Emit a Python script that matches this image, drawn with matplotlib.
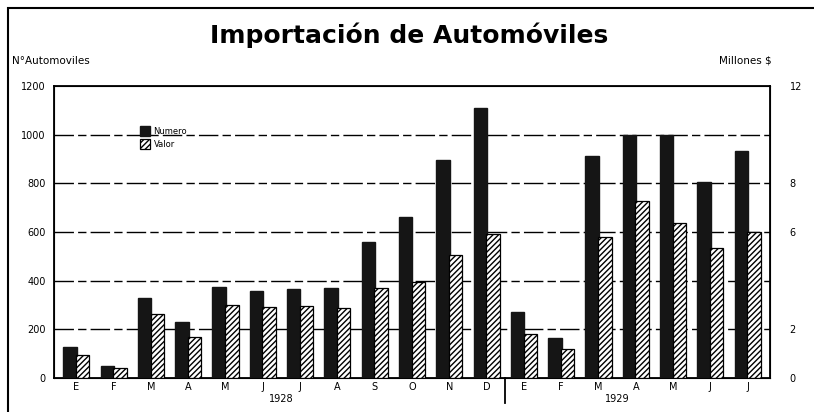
import matplotlib.pyplot as plt
import numpy as np
from matplotlib.patches import Rectangle

months = ['E', 'F', 'M', 'A', 'M', 'J', 'J', 'A', 'S', 'O', 'N', 'D',
          'E', 'F', 'M', 'A', 'M', 'J', 'J']
years = ['1928', '1929']
# number of cars imported (left axis)
numero = [128, 51, 329, 232, 373, 359, 364, 369, 560, 663, 895, 1110,
          270, 163, 911, 1000, 1000, 804, 933]
# value in millions of $ (right axis)
valor = [0.95, 0.41, 2.65, 1.67, 3.01, 2.93, 2.96, 2.88, 3.72, 3.95, 5.04, 5.90,
         1.81, 1.21, 5.78, 7.27, 6.37, 5.33, 6.02]

plt.rcParams['font.family'] = 'DejaVu Sans'
fig = plt.figure(figsize=(8.14, 4.12), dpi=100)
ax = fig.add_axes([0.0663, 0.0825, 0.8797, 0.7085])

x = np.arange(len(months))
w = 0.36
ax.bar(x - 0.17, numero, w, color='#151515', edgecolor='#151515', zorder=3, label='Numero')
ax.bar(x + 0.17, np.array(valor) * 100, w, color='white', edgecolor='black',
       hatch='//////', linewidth=0.9, zorder=3, label='Valor')

ax.set_xlim(-0.6, 18.6)
ax.set_ylim(0, 1200)
ax.set_yticks([0, 200, 400, 600, 800, 1000, 1200])
ax.set_yticklabels(['0', '200', '400', '600', '800', '1000', '1200'], fontsize=7)
for y in [200, 400, 600, 800, 1000]:
    ax.axhline(y, color='black', lw=1.0, ls=(0, (14, 3, 6, 3)), zorder=1)
ax.set_xticks(x)
ax.set_xticklabels(months, fontsize=7)
ax.tick_params(axis='x', length=0, pad=3)
ax.tick_params(axis='y', length=0, pad=6)
for s in ax.spines.values():
    s.set_linewidth(1.3)

ax2 = ax.twinx()
ax2.set_ylim(0, 12)
ax2.set_yticks([0, 2, 6, 8, 12])
ax2.set_yticklabels(['0', '2', '6', '8', '12'], fontsize=7)
ax2.tick_params(axis='y', length=0, pad=14)

# year labels and separator
ax.text(5.5, -0.055, years[0], transform=ax.get_xaxis_transform(), ha='center', va='top', fontsize=7)
ax.text(14.5, -0.055, years[1], transform=ax.get_xaxis_transform(), ha='center', va='top', fontsize=7)
ax.plot([11.5, 11.5], [0, -0.085], transform=ax.get_xaxis_transform(), color='black', lw=1.3, clip_on=False)

# legend
ax.legend(loc='upper left', bbox_to_anchor=(0.11, 0.89), frameon=False, fontsize=6,
          handlelength=1.2, handleheight=1.5, labelspacing=0.35, handletextpad=0.4)

fig.text(0.503, 0.915, 'Importación de Automóviles', ha='center', va='center',
         fontsize=18, fontweight='bold')
fig.text(0.015, 0.852, 'N°Automoviles', ha='left', va='center', fontsize=7.5)
fig.text(0.948, 0.852, 'Millones $', ha='right', va='center', fontsize=7.5)

fig.patches.append(Rectangle((0.01, -0.05), 1.2, 1.03, transform=fig.transFigure,
                             fill=False, edgecolor='black', lw=1.5))

fig.savefig('out.png', dpi=100)
